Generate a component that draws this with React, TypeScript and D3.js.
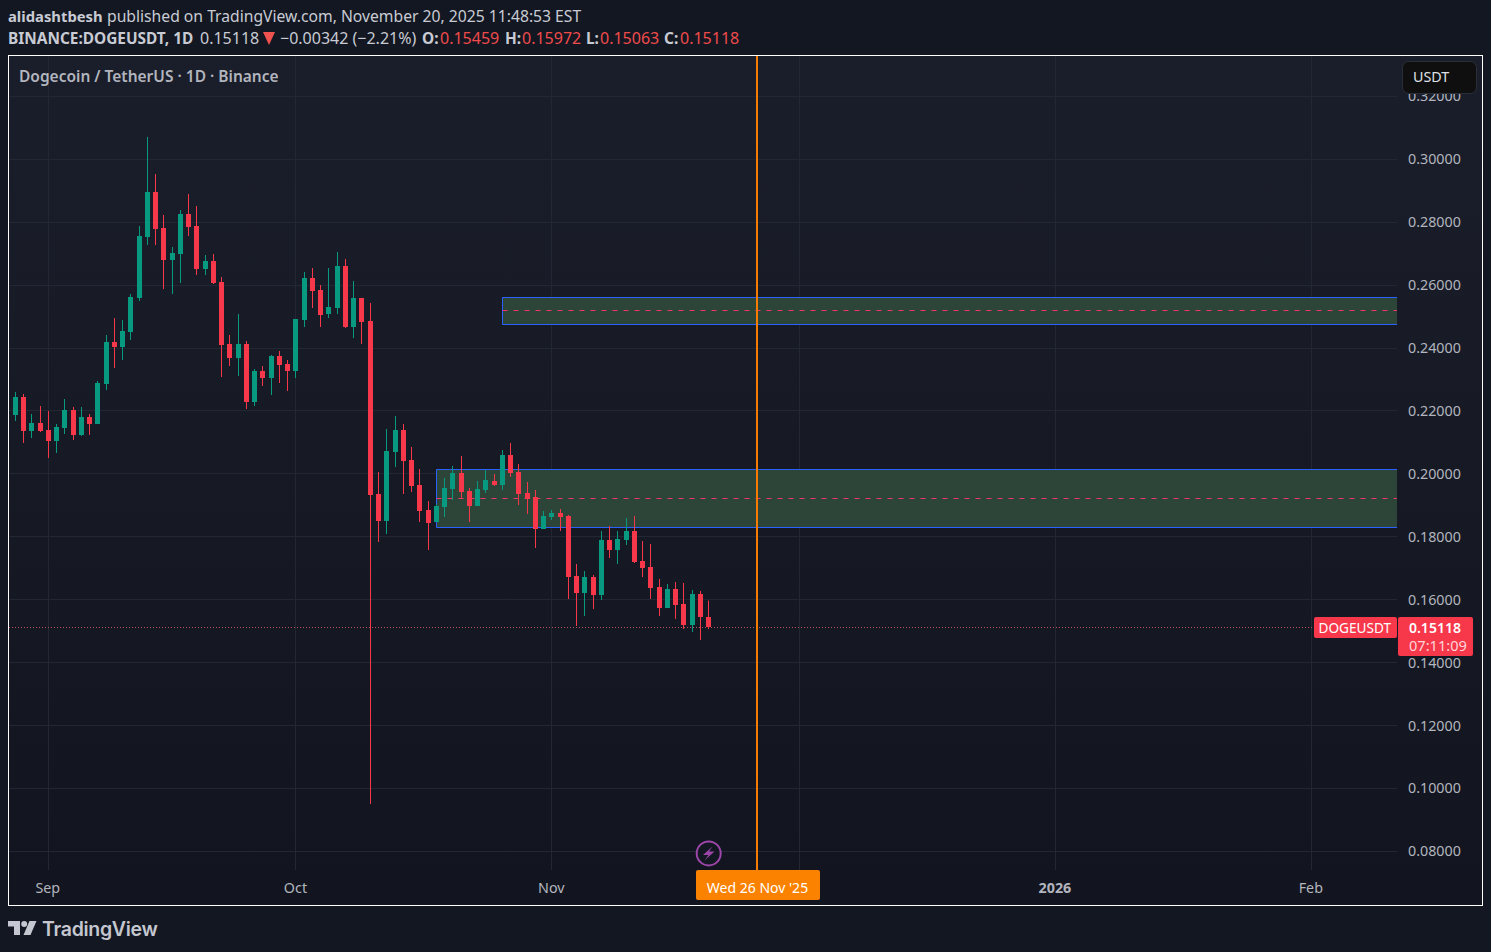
import { useEffect, useRef } from 'react';
import * as d3 from 'd3';

const FONT = '"Noto Sans", sans-serif';
const UP = '#089981';
const DOWN = '#f7374a';

const firstDay = Date.UTC(2025, 7, 28);
const DAY = 86400000;

// daily candles, 28 Aug 2025 to 20 Nov 2025
const opens = [
  0.21871, 0.22443, 0.21362, 0.21616, 0.21394, 0.21044, 0.21457, 0.2203, 0.21235, 0.21807, 0.21585, 0.22856,
  0.24191, 0.24032, 0.24509, 0.2559, 0.27529, 0.2896, 0.27816, 0.26798, 0.26989, 0.28261, 0.27879, 0.26512,
  0.26766, 0.26099, 0.24128, 0.23683, 0.24128, 0.22284, 0.23269, 0.23047, 0.23746, 0.23492, 0.23269, 0.24891,
  0.26226, 0.25844, 0.25081, 0.25272, 0.26607, 0.24668, 0.2559, 0.24859, 0.19359, 0.18501, 0.20694, 0.21394,
  0.2044, 0.19645, 0.1885, 0.18469, 0.18946, 0.19518, 0.20027, 0.19455, 0.18978, 0.19487, 0.19773, 0.19645,
  0.20599, 0.20059, 0.19391, 0.19264, 0.18247, 0.18628, 0.18755, 0.1866, 0.16753, 0.16212, 0.16721, 0.16148,
  0.17897, 0.17579, 0.17897, 0.18183, 0.17229, 0.17039, 0.16403, 0.15735, 0.16339, 0.15862, 0.15195, 0.1618,
  0.15459,
];
const highs = [
  0.22602, 0.22538, 0.21902, 0.22157, 0.21998, 0.21585, 0.22379, 0.22125, 0.22125, 0.21902, 0.22952, 0.24414,
  0.24954, 0.24891, 0.25717, 0.27879, 0.30709, 0.29532, 0.28229, 0.27212, 0.28388, 0.28896, 0.28515, 0.26957,
  0.26989, 0.26258, 0.24414, 0.25082, 0.24223, 0.23333, 0.23428, 0.23778, 0.23905, 0.23619, 0.24923, 0.26417,
  0.26544, 0.26003, 0.26544, 0.27053, 0.2683, 0.26131, 0.2559, 0.25431, 0.20058, 0.21426, 0.21839, 0.21584,
  0.20853, 0.20154, 0.19137, 0.19041, 0.19868, 0.2025, 0.20567, 0.1955, 0.19773, 0.20122, 0.19995, 0.20758,
  0.20981, 0.20313, 0.19741, 0.19487, 0.18819, 0.18851, 0.18883, 0.18692, 0.17134, 0.16911, 0.16784, 0.18183,
  0.18342, 0.18183, 0.18596, 0.1866, 0.17865, 0.1777, 0.16657, 0.16498, 0.16562, 0.1653, 0.16307, 0.16276,
  0.15972,
];
const lows = [
  0.2168, 0.20981, 0.21139, 0.2133, 0.20504, 0.20663, 0.21267, 0.21076, 0.21203, 0.21235, 0.21585, 0.22665,
  0.23365, 0.23619, 0.24255, 0.25495, 0.27275, 0.27275, 0.25876, 0.25717, 0.26067, 0.27561, 0.26321, 0.26321,
  0.26035, 0.23079, 0.23428, 0.23111, 0.22061, 0.22157, 0.22793, 0.22506, 0.22888, 0.22634, 0.23047, 0.24668,
  0.25272, 0.24668, 0.24954, 0.25081, 0.24636, 0.24318, 0.24128, 0.09504, 0.17833, 0.18087, 0.20217, 0.19359,
  0.19423, 0.18469, 0.17579, 0.18469, 0.18628, 0.19169, 0.19222, 0.18469, 0.18978, 0.19391, 0.19614, 0.19487,
  0.199, 0.1901, 0.18724, 0.17643, 0.18247, 0.18533, 0.18183, 0.16021, 0.15163, 0.15481, 0.15703, 0.1599,
  0.17325, 0.17134, 0.17738, 0.17166, 0.16721, 0.16021, 0.15481, 0.15735, 0.15386, 0.15068, 0.14972, 0.14718,
  0.15063,
];
const closes = [
  0.22443, 0.21362, 0.21616, 0.21362, 0.21044, 0.21489, 0.2203, 0.21235, 0.21807, 0.21585, 0.22888, 0.24191,
  0.24032, 0.24541, 0.25622, 0.27561, 0.2896, 0.27784, 0.26798, 0.27021, 0.28261, 0.27847, 0.26512, 0.26766,
  0.26067, 0.24096, 0.23683, 0.24128, 0.22284, 0.23269, 0.23047, 0.23746, 0.2346, 0.23269, 0.24923, 0.26226,
  0.25813, 0.2505, 0.25304, 0.26607, 0.24668, 0.2559, 0.24827, 0.19327, 0.18501, 0.20726, 0.21394, 0.20408,
  0.19613, 0.18819, 0.18437, 0.18978, 0.1955, 0.20027, 0.19423, 0.18978, 0.19518, 0.19804, 0.19645, 0.20599,
  0.20027, 0.19359, 0.192, 0.18247, 0.1866, 0.18755, 0.18628, 0.16721, 0.16212, 0.16721, 0.16148, 0.17897,
  0.17579, 0.17929, 0.18183, 0.17198, 0.17007, 0.16371, 0.15735, 0.16339, 0.15831, 0.15195, 0.1618, 0.15449,
  0.15118,
];

const priceTicks = [0.08, 0.1, 0.12, 0.14, 0.16, 0.18, 0.2, 0.22, 0.24, 0.26, 0.28, 0.3, 0.32];
const monthTicks = [
  Date.UTC(2025, 8, 1),
  Date.UTC(2025, 9, 1),
  Date.UTC(2025, 10, 1),
  Date.UTC(2025, 11, 1),
  Date.UTC(2026, 0, 1),
  Date.UTC(2026, 1, 1),
];
// Dec has a grid line but its label sits under the date tag, so it isn't listed
const labelTicks = [monthTicks[0], monthTicks[1], monthTicks[2], monthTicks[4], monthTicks[5]];
const monthLabels = ['Sep', 'Oct', 'Nov', '2026', 'Feb'];

// zones, upper one first
const zoneStarts = [Date.UTC(2025, 9, 26), Date.UTC(2025, 9, 18)];
const zoneTops = [0.25606, 0.20138];
const zoneBottoms = [0.24748, 0.18294];
const zoneMids = [0.25193, 0.19232];

const markerDay = Date.UTC(2025, 10, 26);
const lastPrice = 0.15118;

const W = 1491;
const H = 952;
const plot = { left: 9, right: 1397, top: 56, bottom: 870 };

export default function App() {
  const svgRef = useRef<SVGSVGElement>(null);

  useEffect(() => {
    if (!svgRef.current) return;
    const svg = d3.select(svgRef.current);
    svg.selectAll('*').remove();

    const x = d3.scaleUtc().domain([monthTicks[0], monthTicks[5]]).range([48.3, 1311.3]);
    const y = d3.scaleLinear().domain([0.08, 0.3]).range([851.3, 159.3]);
    const snap = (v: number) => Math.floor(v) + 0.5;

    const defs = svg.append('defs');
    const grad = defs.append('linearGradient').attr('id', 'bg').attr('x1', 0).attr('x2', 0).attr('y1', 0).attr('y2', 1);
    grad.append('stop').attr('offset', '0%').attr('stop-color', '#1a1e2a');
    grad.append('stop').attr('offset', '100%').attr('stop-color', '#12151f');

    svg.append('rect').attr('width', W).attr('height', H).attr('fill', '#131722');
    svg.append('rect').attr('x', 8.5).attr('y', 55.5).attr('width', 1474).attr('height', 850)
      .attr('fill', 'url(#bg)').attr('stroke', '#ffffff').attr('stroke-width', 1);

    const header = svg.append('g').attr('font-family', FONT).attr('fill', '#c8cbd3');
    const headerText = (tx: number, ty: number, s: string, size: number, weight = 400, fill = '#c8cbd3') =>
      header.append('text').attr('x', tx).attr('y', ty).attr('font-size', size).attr('font-weight', weight)
        .attr('fill', fill).text(s);
    headerText(8, 21.5, 'alidashtbesh', 14.8, 700);
    headerText(107, 21.5, 'published on TradingView.com, November 20, 2025 11:48:53 EST', 15.7);
    headerText(8, 44, 'BINANCE:DOGEUSDT, 1D', 15.4, 700);
    headerText(200, 44, '0.15118', 16);
    header.append('path').attr('d', 'M263,32H275L269,45Z').attr('fill', '#f0524f');
    headerText(280, 44, '−0.00342 (−2.21%)', 16);
    const ohlcX = [422, 505, 586, 664];
    const ohlcValX = [440, 522, 600, 680];
    ['O:', 'H:', 'L:', 'C:'].forEach((s, i) => {
      headerText(ohlcX[i], 44, s, 15.4, 700);
      headerText(ohlcValX[i], 44, [opens[84], highs[84], lows[84], closes[84]][i].toFixed(5), 16, 400, '#ef4b4b');
    });

    const grid = svg.append('g').attr('stroke', '#232733').attr('stroke-width', 1);
    grid.selectAll('.h').data(priceTicks).join('line')
      .attr('x1', plot.left).attr('x2', plot.right)
      .attr('y1', (d) => snap(y(d))).attr('y2', (d) => snap(y(d)));
    grid.selectAll('.v').data(monthTicks).join('line')
      .attr('y1', plot.top).attr('y2', plot.bottom)
      .attr('x1', (d) => snap(x(d))).attr('x2', (d) => snap(x(d)));

    const zones = svg.append('g');
    zoneStarts.forEach((start, i) => {
      const x0 = snap(x(start));
      const y0 = snap(y(zoneTops[i]));
      const y1 = snap(y(zoneBottoms[i]));
      zones.append('rect').attr('x', x0).attr('y', y0).attr('width', plot.right - x0).attr('height', y1 - y0)
        .attr('fill', '#2d4539');
      zones.append('path').attr('d', `M${plot.right},${y0}H${x0}V${y1}H${plot.right}`)
        .attr('fill', 'none').attr('stroke', '#2962ff').attr('stroke-width', 1);
      zones.append('line').attr('x1', x0).attr('x2', plot.right)
        .attr('y1', snap(y(zoneMids[i]))).attr('y2', snap(y(zoneMids[i])))
        .attr('stroke', '#f23668').attr('stroke-dasharray', '5 6');
    });

    svg.append('line').attr('x1', plot.left).attr('x2', plot.right)
      .attr('y1', snap(y(lastPrice))).attr('y2', snap(y(lastPrice)))
      .attr('stroke', '#b9505c').attr('stroke-dasharray', '1 2');

    const idx = d3.range(opens.length);
    const cx = (i: number) => snap(x(firstDay + i * DAY));
    const color = (i: number) => (closes[i] >= opens[i] ? UP : DOWN);
    const candles = svg.append('g');
    candles.selectAll('.wick').data(idx).join('line')
      .attr('x1', cx).attr('x2', cx)
      .attr('y1', (i) => y(highs[i])).attr('y2', (i) => y(lows[i]))
      .attr('stroke', color).attr('stroke-width', 1);
    candles.selectAll('.body').data(idx).join('rect')
      .attr('x', (i) => cx(i) - 2.5).attr('width', 5)
      .attr('y', (i) => Math.round(y(Math.max(opens[i], closes[i]))))
      .attr('height', (i) => Math.max(1, Math.abs(Math.round(y(opens[i])) - Math.round(y(closes[i])))))
      .attr('fill', color);

    // marker line and lightning badge
    const markerX = Math.floor(x(markerDay)) - 1;
    svg.append('line').attr('x1', markerX).attr('x2', markerX).attr('y1', plot.top).attr('y2', plot.bottom)
      .attr('stroke', '#f57c00').attr('stroke-width', 2);
    svg.append('circle').attr('cx', 708.7).attr('cy', 853.4).attr('r', 12).attr('fill', '#131722')
      .attr('stroke', '#9c46aa').attr('stroke-width', 2);
    svg.append('path').attr('d', 'M712.5,846.5L703,855H708.5L704.5,860.5L714.5,851.5H709Z').attr('fill', '#9c46aa');

    // axes
    const yAxis = svg.append('g').attr('transform', `translate(${plot.right},0)`)
      .call(d3.axisRight(y).tickValues(priceTicks).tickSize(0).tickPadding(11).tickFormat((d) => (+d).toFixed(5)));
    yAxis.select('.domain').remove();
    yAxis.selectAll('text').attr('fill', '#b2b5be').style('font-size', '14.3px').style('font-family', FONT);

    const xAxis = svg.append('g').attr('transform', 'translate(-1,882.5)')
      .call(d3.axisBottom(x).tickValues(labelTicks).tickSize(0).tickPadding(0)
        .tickFormat((_, i) => monthLabels[i]));
    xAxis.select('.domain').remove();
    xAxis.selectAll('text').attr('fill', '#b2b5be').style('font-size', '14.3px').style('font-family', FONT);
    xAxis.selectAll<SVGTextElement, unknown>('.tick text')
      .filter((_, i) => monthLabels[i] === '2026').style('font-weight', 700);

    const labels = svg.append('g').attr('font-family', FONT);
    labels.append('text').attr('x', 19).attr('y', 82).attr('font-size', 15.5).attr('font-weight', 600)
      .attr('fill', '#b2b5be').text('Dogecoin / TetherUS · 1D · Binance');

    // USDT button, sits over the top tick
    labels.append('rect').attr('x', 1402.5).attr('y', 61.5).attr('width', 74).attr('height', 32).attr('rx', 6)
      .attr('fill', '#0f0f0f').attr('stroke', '#2a2e39');
    labels.append('text').attr('x', 1413).attr('y', 82).attr('font-size', 14.3).attr('fill', '#dfe1e6').text('USDT');

    // last price tags
    labels.append('rect').attr('x', 1314).attr('y', 617).attr('width', 83).attr('height', 21).attr('rx', 2).attr('fill', DOWN);
    labels.append('text').attr('x', 1318.5).attr('y', 633).attr('font-size', 13.6).attr('fill', '#ffffff').text('DOGEUSDT');
    labels.append('rect').attr('x', 1398).attr('y', 617).attr('width', 75).attr('height', 39).attr('rx', 2).attr('fill', DOWN);
    labels.append('text').attr('x', 1409).attr('y', 633).attr('font-size', 14).attr('font-weight', 600).attr('fill', '#ffffff').text(lastPrice.toFixed(5));
    labels.append('text').attr('x', 1409).attr('y', 651).attr('font-size', 14.6).attr('fill', '#ffd5d9').text('07:11:09');

    // date tag
    labels.append('rect').attr('x', 696).attr('y', 870).attr('width', 124).attr('height', 30).attr('rx', 2).attr('fill', '#fb8200');
    labels.append('text').attr('x', 757.5).attr('y', 892.5).attr('text-anchor', 'middle').attr('font-size', 14)
      .attr('fill', '#ffffff').text("Wed 26 Nov '25");

    // TradingView mark
    const logo = svg.append('g').attr('fill', '#c4c7cf');
    logo.append('path').attr('d', 'M8,921H20V935H14V926.5H8Z');
    logo.append('circle').attr('cx', 24.2).attr('cy', 924).attr('r', 3);
    logo.append('path').attr('d', 'M29.5,921H36.5L30.5,935H23.5Z');
    logo.append('text').attr('x', 42).attr('y', 935.5).attr('font-family', 'Inter, sans-serif')
      .attr('font-size', 19.5).attr('font-weight', 600).attr('letter-spacing', -0.3).text('TradingView');
  }, []);

  return <svg ref={svgRef} width={W} height={H} style={{ position: 'absolute', left: 0, top: 0, display: 'block' }} />;
}
